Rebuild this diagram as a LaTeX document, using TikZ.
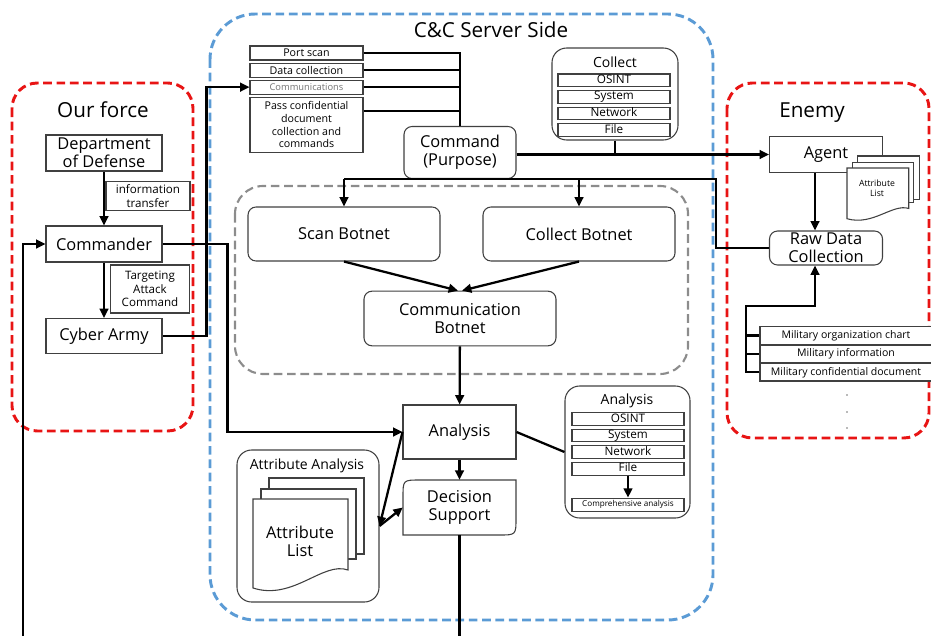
\documentclass[tikz,border=0pt]{standalone}
\usepackage{fontspec}
\setmainfont{Open Sans}
\usepackage{xcolor}
\usetikzlibrary{chains, positioning, arrows.meta}

\definecolor{forcered}{RGB}{232,20,20}
\definecolor{serverblue}{RGB}{91,155,213}
\definecolor{botgray}{RGB}{140,140,140}

\begin{document}
\begin{tikzpicture}[
    x=0.75pt, y=-0.75pt,
    font=\fontsize{12.3}{13.5}\selectfont,
    boxline/.style = {draw=black!75, line width=0.8pt},
    box/.style = {boxline, fill=white, align=center, inner sep=1pt},
    rbox/.style = {box, rounded corners=6pt},
    panel/.style = {boxline, rounded corners=11pt},
    notebox/.style = {box, font=\fontsize{8.7}{10.2}\selectfont},
    order/.style = {box, inner sep=0pt, minimum width=84.75pt, minimum height=10.5pt,
                    font=\fontsize{8}{9.4}\selectfont},
    item/.style = {box, inner sep=0pt, minimum height=9.4pt, text height=6.4pt,
                   text depth=1.9pt, font=\fontsize{8.8}{9}\selectfont},
    intel/.style = {box, inner sep=0pt, minimum width=129pt, minimum height=13pt,
                    font=\fontsize{7.9}{9}\selectfont},
    zonetitle/.style = {font=\fontsize{15.5}{17}\selectfont},
    subtitle/.style = {font=\fontsize{10.5}{12}\selectfont},
    conn/.style = {line width=1.7pt},
    arr/.style = {conn, -{Triangle[length=7pt, width=6.5pt]}},
    zone/.style = {line width=2.2pt, rounded corners=19pt, dash pattern=on 6.5pt off 3.5pt},
    dotmark/.style = {circle, fill=black!55, inner sep=0.5pt},
    pics/pagestack/.style = {code={
        \draw[boxline, fill=white] (16,-21) rectangle (111,55);
        \draw[boxline, fill=white] (8,-10) rectangle (103,60);
        \draw[boxline, fill=white] (0,0) -- (95,0) -- (95,71)
            .. controls (70,62) and (40,102) .. (0,89) -- cycle;
    }}
  ]
    \useasboundingbox (0,0) rectangle (931,635);

    % zones
    \draw[zone, forcered] (12,83) rectangle (193,431);
    \draw[zone, serverblue, rounded corners=34pt] (210,14) rectangle (713,620);
    \draw[zone, forcered] (727,83) rectangle (929,438);
    \draw[zone, botgray, line width=1.6pt, rounded corners=21pt] (235,186) rectangle (688,374);

    \node[zonetitle] (forcetitle) at (103,110) {Our force};
    \node[zonetitle] (servertitle) at (491,30) {C\&C Server Side};
    \node[zonetitle] (enemytitle) at (812,113) {Enemy};

    % our force
    \node[box, minimum width=87pt, minimum height=27pt] (dod) at (104,153) {Department\\of Defense};
    \node[notebox, minimum width=63pt, minimum height=21.75pt] (infonote) at (148,196) {information\\transfer};
    \node[box, minimum width=87pt, minimum height=27pt] (cmdr) at (104,244) {Commander};
    \node[notebox, minimum width=59pt, minimum height=36pt] (tgtnote) at (150,289) {Targeting\\Attack\\Command};
    \node[box, minimum width=87pt, minimum height=26.25pt] (army) at (104,336) {Cyber Army};

    % orders sent by the server
    \begin{scope}[start chain=orders going below, node distance=1.5pt]
      \node[order, on chain] (port) at (306.5,53) {Port scan};
      \node[order, on chain] (data) {Data collection};
      \node[order, on chain, text=black!55, font=\fontsize{7}{8}\selectfont] (comms) {Communications};
      \node[box, on chain, inner sep=0pt, minimum width=84.75pt, minimum height=41.25pt,
            font=\fontsize{8}{9.6}\selectfont] (pass) {Pass confidential\\document\\collection and\\commands};
    \end{scope}

    \node[rbox, minimum width=84pt, minimum height=39pt] (cmd) at (460,152.5) {Command\\(Purpose)};

    % collect panel
    \node[panel, minimum width=94.5pt, minimum height=69pt] (collect) at (615,94) {};
    \node[subtitle] (collecttitle) at (615,62) {Collect};
    \begin{scope}[start chain=gather going below, node distance=2.25pt]
      \node[item, on chain, minimum width=84pt] (c1) at (614,80.25) {OSINT};
      \node[item, on chain, minimum width=84pt] (c2) {System};
      \node[item, on chain, minimum width=84pt] (c3) {Network};
      \node[item, on chain, minimum width=84pt] (c4) {File};
    \end{scope}

    % botnets
    \node[rbox, minimum width=144pt, minimum height=40.5pt] (scanbot) at (344,234) {Scan Botnet};
    \node[rbox, minimum width=144pt, minimum height=40.5pt] (collectbot) at (579,234) {Collect Botnet};
    \node[rbox, minimum width=144pt, minimum height=41pt] (commbot) at (460,318.5) {Communication\\Botnet};

    \node[box, minimum width=84.75pt, minimum height=40.5pt] (analysis) at (459.5,432) {Analysis};
    \draw[boxline] (403,535) -- (403,497) .. controls (403,480) .. (420,480) -- (516,480)
        -- (516,518) .. controls (516,535) .. (499,535) -- cycle;  % decision outline
    \node[align=center, inner sep=0pt, minimum width=84.75pt, minimum height=41.25pt] (decision) at (459.5,507.5) {Decision\\Support};

    % attribute analysis
    \node[panel, minimum width=106.5pt, minimum height=114pt] (attrbox) at (308,526) {};
    \node[subtitle] (attrtitle) at (307,466) {Attribute Analysis};
    \pic at (253,499) {pagestack};
    \node[align=center] (attrlist) at (300,541) {Attribute\\List};

    % analysis panel
    \node[panel, minimum width=93.75pt, minimum height=99pt] (anbox) at (627.5,452) {};
    \node[subtitle] (antitle) at (627,401) {Analysis};
    \begin{scope}[start chain=study going below, node distance=2.25pt]
      \node[item, on chain, minimum width=84pt] (a1) at (628,419) {OSINT};
      \node[item, on chain, minimum width=84pt] (a2) {System};
      \node[item, on chain, minimum width=84pt] (a3) {Network};
      \node[item, on chain, minimum width=84pt] (a4) {File};
    \end{scope}
    \node[box, inner sep=0pt, minimum width=84pt, minimum height=9.75pt, below=16.5pt of a4,
          font=\fontsize{6.1}{7}\selectfont] (comp) {Comprehensive analysis};

    % enemy
    \node[box, minimum width=84.75pt, minimum height=27pt] (agent) at (826,154.5) {Agent};
    \pic[xscale=0.65, yscale=0.57] at (847,168) {pagestack};
    \node[align=center, font=\fontsize{6.5}{7.5}\selectfont] (attrlist2) at (877,188) {Attribute\\List};
    \node[rbox, minimum width=84.75pt, minimum height=25.5pt] (raw) at (826,248) {Raw Data\\Collection};
    \begin{scope}[start chain=secrets going below, node distance=0pt]
      \node[intel, on chain] (mil1) at (846,335.5) {Military organization chart};
      \node[intel, on chain] (mil2) {Military information};
      \node[intel, on chain] (mil3) {Military confidential document};
    \end{scope}
    \foreach \y [count=\i] in {395,412,428}
      \node[dotmark] (dot\i) at (847,\y) {};

    \coordinate (loopin) at (23,636);
    \coordinate (loopout) at (459.5,636);
    \coordinate (fork) at (716,179);
    \coordinate (milbus) at (746,306);
    \coordinate (passout) at ([yshift=-10.5pt]pass.north east);

    % connectors
    \draw[arr] (dod) -- (cmdr);
    \draw[arr] (cmdr) -- (army);
    \draw[arr] (loopin) |- (cmdr.west);
    \draw[arr] (cmdr.east) -- ++(65,0) |- (analysis.west);
    \draw[arr] (army.east) -- ++(44,0) |- (comms.west);

    \draw[conn] (port.east) -| (cmd.north);
    \draw[conn] (data.east) -- (data.east -| cmd.north);
    \draw[conn] (comms.east) -- (comms.east -| cmd.north);
    \draw[conn] (passout) -- (passout -| cmd.north);

    \draw[arr] (cmd.east |- agent.west) -- (agent.west);
    \draw[conn] (collect.south) -- (collect.south |- agent.west);
    \draw[conn] (scanbot.north |- fork) -- (fork) |- (raw.west);
    \draw[arr] (scanbot.north |- fork) -- (scanbot.north);
    \draw[arr] (collectbot.north |- fork) -- (collectbot.north);

    \draw[arr] (scanbot.south) -- ([xshift=-1.5pt]commbot.north);
    \draw[arr] (collectbot.south) -- ([xshift=1.5pt]commbot.north);
    \draw[arr] (commbot) -- (analysis);
    \draw[arr] (analysis) -- (decision);
    \draw[conn] (decision.south) -- (loopout);
    \draw[arr] (analysis.west) -- (attrbox.east);
    \draw[arr] (attrbox.east) -- (decision.west);
    \draw[conn] (analysis.east) -- (anbox.west);
    \draw[arr] (a4) -- (comp);

    \draw[arr] ([xshift=-8.25pt]agent.south) -- ([xshift=-8.25pt]raw.north);
    \draw[conn] (mil1.west) -- (mil1.west -| milbus);
    \draw[conn] (mil2.west) -- (mil2.west -| milbus);
    \draw[arr] (mil3.west) -| (milbus) -| ([xshift=-8.25pt]raw.south);
\end{tikzpicture}
\end{document}
